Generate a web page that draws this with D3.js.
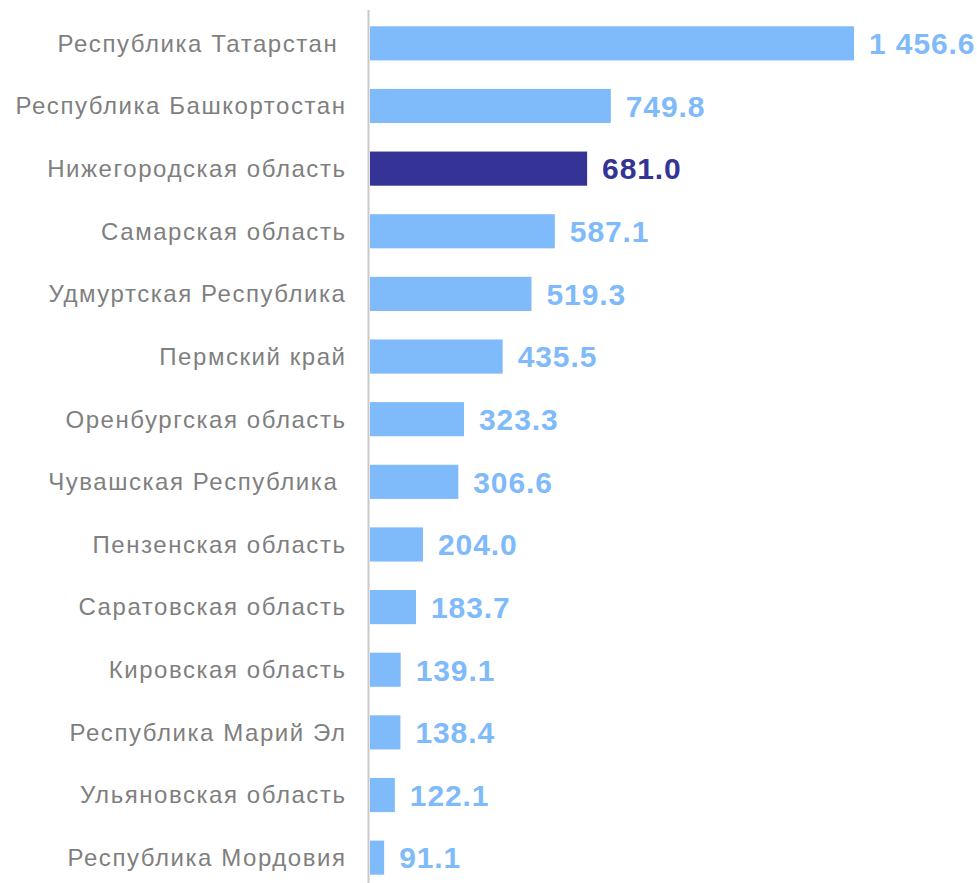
<!DOCTYPE html>
<html lang="ru">
<head>
    <meta charset="UTF-8">
    <title>Регионы ПФО</title>
    <script src="https://d3js.org/d3.v7.min.js"></script>
    <style>
        body {
            margin: 0;
            background: #ffffff;
            font-family: Arial, "Liberation Sans", sans-serif;
        }
        .region-label {
            font-size: 24px;
            letter-spacing: 1.55px;
            fill: #7f7f7f;
            white-space: pre;
        }
        .value-label {
            font-size: 30px;
            font-weight: bold;
            letter-spacing: 0.9px;
        }
    </style>
</head>
<body>
    <div id="chart"></div>

    <script>
        // regions in display order (top to bottom)
        const regions = [
            "Республика Татарстан ",
            "Республика Башкортостан",
            "Нижегородская область",
            "Самарская область",
            "Удмуртская Республика",
            "Пермский край",
            "Оренбургская область",
            "Чувашская Республика ",
            "Пензенская область",
            "Саратовская область",
            "Кировская область",
            "Республика Марий Эл",
            "Ульяновская область",
            "Республика Мордовия"
        ];
        const values = [1456.6, 749.8, 681.0, 587.1, 519.3, 435.5, 323.3, 306.6, 204.0, 183.7, 139.1, 138.4, 122.1, 91.1];
        const highlighted = ["Нижегородская область"];

        const width = 977, height = 883;
        const lightBlue = "#7fbafb";
        const darkBlue = "#353395";

        const data = regions.map((r, i) => ({ name: r, value: values[i] }));

        const svg = d3.select("#chart")
            .append("svg")
            .attr("width", width)
            .attr("height", height);

        // axis doesn't start at zero in the original
        const x = d3.scaleLinear()
            .domain([50, 1456.6])
            .range([370, 854]);

        const y = d3.scaleBand()
            .domain(regions)
            .range([12, 889])
            .paddingInner(0.455)
            .paddingOuter(0.228);

        const color = d => highlighted.includes(d.name) ? darkBlue : lightBlue;

        svg.selectAll(".bar")
            .data(data)
            .enter().append("rect")
            .attr("class", "bar")
            .attr("x", x(50))
            .attr("y", d => y(d.name))
            .attr("width", d => x(d.value) - x(50))
            .attr("height", y.bandwidth())
            .attr("fill", color);

        // vertical axis line
        svg.append("line")
            .attr("x1", 368.5).attr("x2", 368.5)
            .attr("y1", 10).attr("y2", height)
            .attr("stroke", "#c9c9c9")
            .attr("stroke-width", 2);

        svg.selectAll(".region-label")
            .data(data)
            .enter().append("text")
            .attr("class", "region-label")
            .attr("x", 346.5)
            .attr("y", d => y(d.name) + y.bandwidth() / 2)
            .attr("dy", "0.35em")
            .attr("text-anchor", "end")
            .text(d => d.name);

        const fmt = v => d3.format(",.1f")(v).replace(/,/g, " ");

        svg.selectAll(".value-label")
            .data(data)
            .enter().append("text")
            .attr("class", "value-label")
            .attr("x", d => x(d.value) + 15)
            .attr("y", d => y(d.name) + y.bandwidth() / 2)
            .attr("dy", "0.36em")
            .attr("fill", color)
            .text(d => fmt(d.value));
    </script>
</body>
</html>
